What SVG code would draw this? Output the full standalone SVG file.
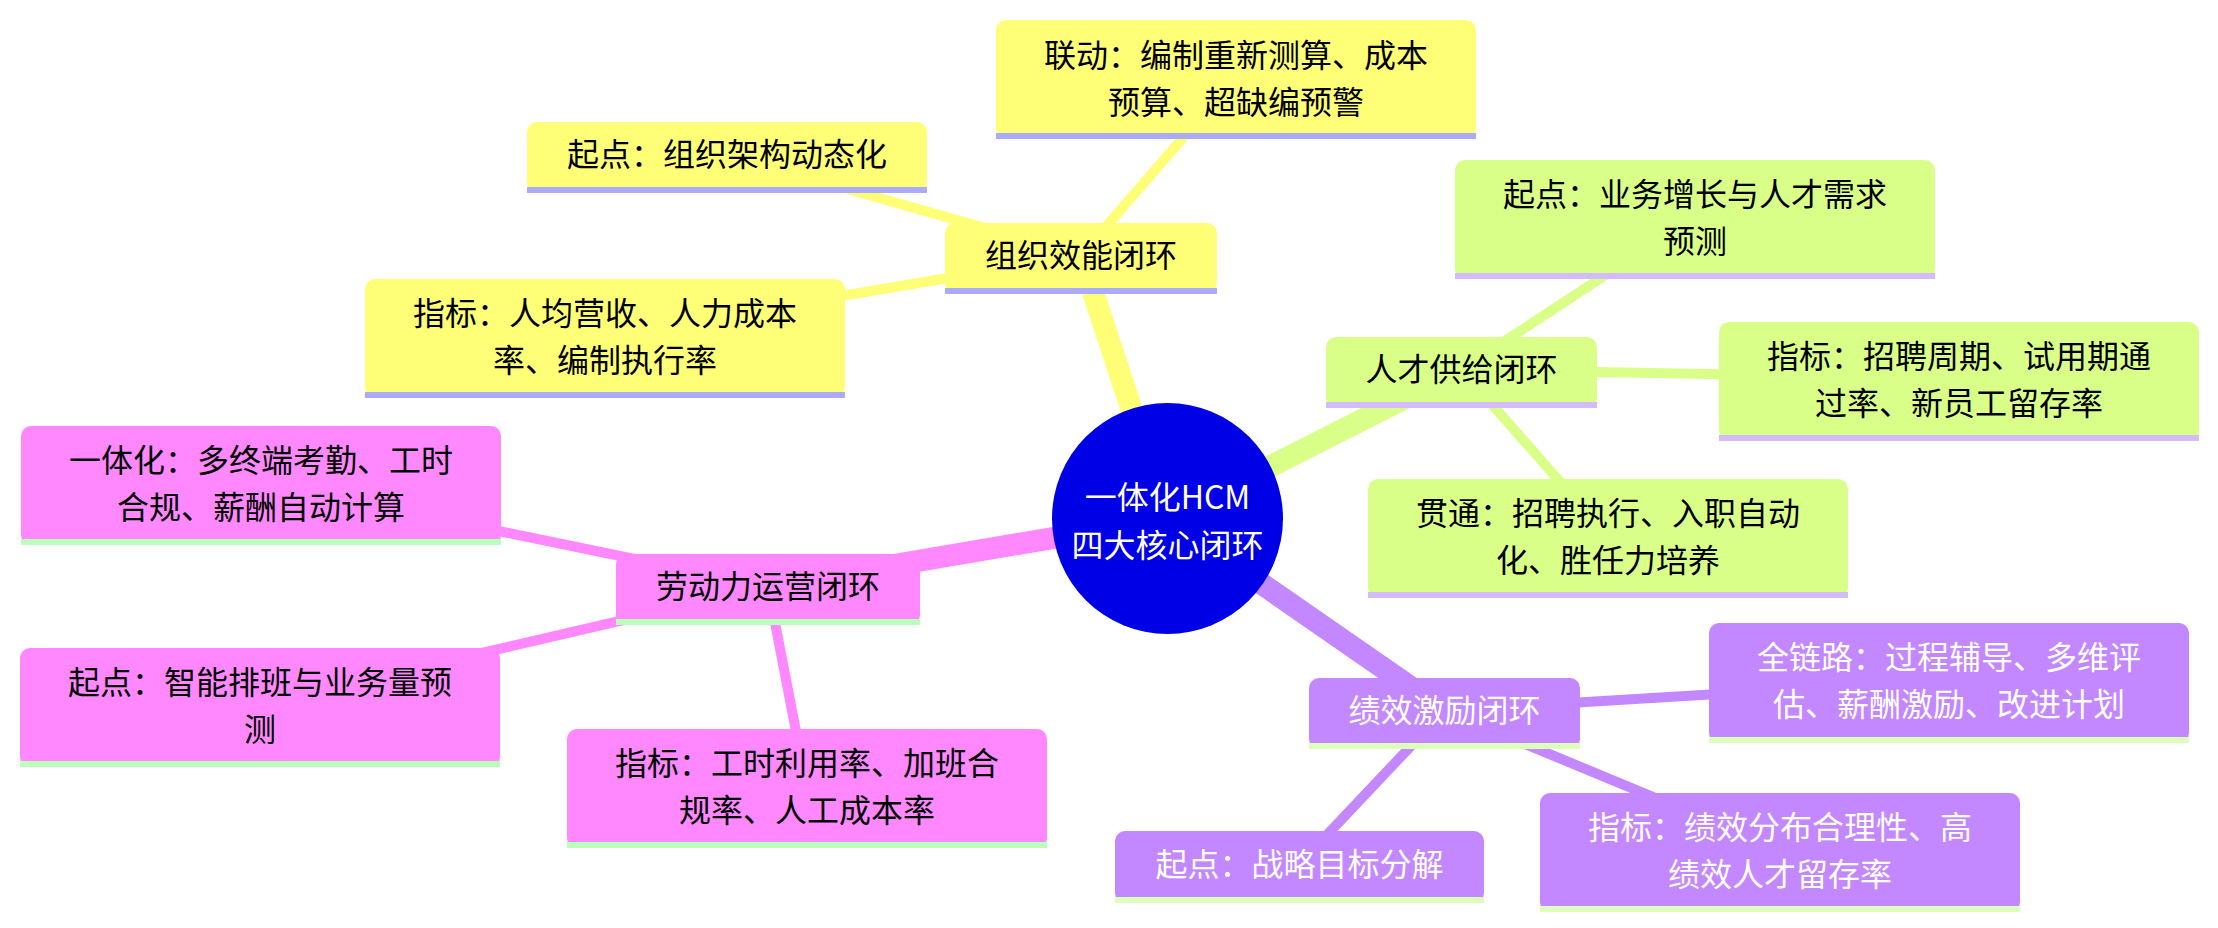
<svg xmlns="http://www.w3.org/2000/svg" width="2218" height="928" viewBox="0 0 2218 928">
<style>
text{font-family:"Noto Sans CJK SC","Noto Sans",sans-serif;font-size:32px;text-anchor:middle}
.dk{fill:#000}
.wt{fill:#fff}
.y{fill:#ffff77}.yu{fill:#aaaaff}
.g{fill:#daff88}.gu{fill:#d4bbff}
.p{fill:#ff88ff}.pu{fill:#bbffbb}
.v{fill:#c388ff}.vu{fill:#ddffbb}
.main{stroke-width:22;fill:none}
.sub{stroke-width:10;fill:none}
.sy{stroke:#ffff77}.sg{stroke:#daff88}.sp{stroke:#ff88ff}.sv{stroke:#c388ff}
</style>
<rect width="2218" height="928" fill="#fff"/>
<g id="connectors">
<line class="main sy" x1="1167.5" y1="518.5" x2="1081" y2="255.5"/>
<line class="sub sy" x1="1081" y1="255.5" x2="1236" y2="76.5"/>
<line class="sub sy" x1="1081" y1="255.5" x2="727" y2="154.5"/>
<line class="sub sy" x1="1081" y1="255.5" x2="604.5" y2="336"/>
<line class="main sg" x1="1167.5" y1="518.5" x2="1461.5" y2="369.5"/>
<line class="sub sg" x1="1461.5" y1="369.5" x2="1694.5" y2="216.5"/>
<line class="sub sg" x1="1461.5" y1="369.5" x2="1958.5" y2="378.5"/>
<line class="sub sg" x1="1461.5" y1="369.5" x2="1607.5" y2="536"/>
<line class="main sp" x1="1167.5" y1="518.5" x2="768" y2="586.5"/>
<line class="sub sp" x1="768" y1="586.5" x2="261" y2="482"/>
<line class="sub sp" x1="768" y1="586.5" x2="260" y2="704.5"/>
<line class="sub sp" x1="768" y1="586.5" x2="806.5" y2="785.5"/>
<line class="main sv" x1="1167.5" y1="518.5" x2="1444.5" y2="710.5"/>
<line class="sub sv" x1="1444.5" y1="710.5" x2="1949" y2="680"/>
<line class="sub sv" x1="1444.5" y1="710.5" x2="1779.5" y2="849.5"/>
<line class="sub sv" x1="1444.5" y1="710.5" x2="1299.5" y2="864"/>
</g>
<g id="root">
<circle cx="1167.5" cy="518.5" r="115.5" fill="#0000e6"/>
<text class="wt" x="1167.5" y="509">一体化HCM</text>
<text class="wt" x="1167.5" y="557">四大核心闭环</text>
</g>
<g id="n-org">
<rect class="y" x="945" y="223" width="272" height="70" rx="10"/>
<rect class="yu" x="945" y="288" width="272" height="6"/>
<text class="dk" x="1081" y="267">组织效能闭环</text>
</g>
<g id="n-org-link">
<rect class="y" x="996" y="20" width="480" height="119" rx="10"/>
<rect class="yu" x="996" y="133" width="480" height="6"/>
<text class="dk" x="1236" y="67">联动：编制重新测算、成本</text>
<text class="dk" x="1236" y="114">预算、超缺编预警</text>
</g>
<g id="n-org-start">
<rect class="y" x="527" y="122" width="400" height="71" rx="10"/>
<rect class="yu" x="527" y="187" width="400" height="6"/>
<text class="dk" x="727" y="166">起点：组织架构动态化</text>
</g>
<g id="n-org-kpi">
<rect class="y" x="365" y="279" width="480" height="119" rx="10"/>
<rect class="yu" x="365" y="392" width="480" height="6"/>
<text class="dk" x="605" y="325">指标：人均营收、人力成本</text>
<text class="dk" x="605" y="372">率、编制执行率</text>
</g>
<g id="n-talent">
<rect class="g" x="1326" y="337" width="271" height="71" rx="10"/>
<rect class="gu" x="1326" y="402" width="271" height="6"/>
<text class="dk" x="1461.5" y="381">人才供给闭环</text>
</g>
<g id="n-talent-start">
<rect class="g" x="1455" y="160" width="480" height="119" rx="10"/>
<rect class="gu" x="1455" y="273" width="480" height="6"/>
<text class="dk" x="1695" y="206">起点：业务增长与人才需求</text>
<text class="dk" x="1695" y="253">预测</text>
</g>
<g id="n-talent-kpi">
<rect class="g" x="1719" y="322" width="480" height="119" rx="10"/>
<rect class="gu" x="1719" y="435" width="480" height="6"/>
<text class="dk" x="1959" y="368">指标：招聘周期、试用期通</text>
<text class="dk" x="1959" y="415">过率、新员工留存率</text>
</g>
<g id="n-talent-flow">
<rect class="g" x="1368" y="479" width="480" height="119" rx="10"/>
<rect class="gu" x="1368" y="592" width="480" height="6"/>
<text class="dk" x="1608" y="525">贯通：招聘执行、入职自动</text>
<text class="dk" x="1608" y="572">化、胜任力培养</text>
</g>
<g id="n-labor">
<rect class="p" x="616" y="554" width="304" height="71" rx="10"/>
<rect class="pu" x="616" y="619" width="304" height="6"/>
<text class="dk" x="768" y="598">劳动力运营闭环</text>
</g>
<g id="n-labor-int">
<rect class="p" x="21" y="426" width="480" height="119" rx="10"/>
<rect class="pu" x="21" y="539" width="480" height="6"/>
<text class="dk" x="261" y="472">一体化：多终端考勤、工时</text>
<text class="dk" x="261" y="519">合规、薪酬自动计算</text>
</g>
<g id="n-labor-start">
<rect class="p" x="20" y="648" width="480" height="119" rx="10"/>
<rect class="pu" x="20" y="761" width="480" height="6"/>
<text class="dk" x="260" y="694">起点：智能排班与业务量预</text>
<text class="dk" x="260" y="741">测</text>
</g>
<g id="n-labor-kpi">
<rect class="p" x="567" y="729" width="480" height="119" rx="10"/>
<rect class="pu" x="567" y="842" width="480" height="6"/>
<text class="dk" x="807" y="775">指标：工时利用率、加班合</text>
<text class="dk" x="807" y="822">规率、人工成本率</text>
</g>
<g id="n-perf">
<rect class="v" x="1309" y="678" width="271" height="71" rx="10"/>
<rect class="vu" x="1309" y="743" width="271" height="6"/>
<text class="wt" x="1444.5" y="722">绩效激励闭环</text>
</g>
<g id="n-perf-chain">
<rect class="v" x="1709" y="623" width="480" height="120" rx="10"/>
<rect class="vu" x="1709" y="737" width="480" height="6"/>
<text class="wt" x="1949" y="669">全链路：过程辅导、多维评</text>
<text class="wt" x="1949" y="716">估、薪酬激励、改进计划</text>
</g>
<g id="n-perf-kpi">
<rect class="v" x="1540" y="793" width="480" height="119" rx="10"/>
<rect class="vu" x="1540" y="906" width="480" height="6"/>
<text class="wt" x="1780" y="839">指标：绩效分布合理性、高</text>
<text class="wt" x="1780" y="886">绩效人才留存率</text>
</g>
<g id="n-perf-start">
<rect class="v" x="1115" y="831" width="369" height="72" rx="10"/>
<rect class="vu" x="1115" y="897" width="369" height="6"/>
<text class="wt" x="1299.5" y="876">起点：战略目标分解</text>
</g>
</svg>
